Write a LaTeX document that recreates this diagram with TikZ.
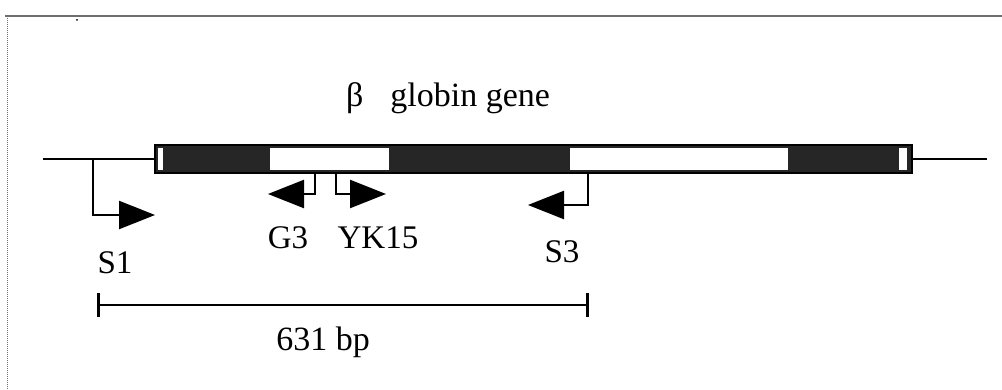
\documentclass[tikz,border=0pt]{standalone}
\usepackage{fontspec}
\setmainfont{Liberation Serif}
\usetikzlibrary{arrows.meta, positioning}
\definecolor{exondark}{RGB}{38,38,38}
\definecolor{framegray}{RGB}{110,110,110}

\begin{document}
\begin{tikzpicture}[x=1pt, y=-1pt,
    primer/.style={line width=2.5pt, -{Triangle[length=36pt, width=28pt]}},
    lbl/.style={font=\fontsize{33}{38}\selectfont, inner sep=0pt, anchor=base},
    gap/.style={fill=white, draw=none}]
\useasboundingbox (0,0) rectangle (1002,390);
% frame of the panel
\draw[framegray, line width=2.2pt] (5,16) -- (1002,16);
\draw[framegray, line width=1pt, densely dotted] (7,16) -- (7,390);
\fill[black] (77,20) circle (1pt);
% flanking DNA
\coordinate (lend) at (43,159);
\coordinate (rend) at (987,159);
\draw[line width=1.5pt] (lend) -- (rend);
% gene: exons dark, introns and UTR ends white
\draw[line width=2pt, fill=exondark] (155,145) rectangle (912,173);
\fill[gap] (158,148) rectangle (163,170);
\fill[gap] (270,148) rectangle (389,170);
\fill[gap] (570,148) rectangle (788,170);
\fill[gap] (899,148) rectangle (907,170);
\node[lbl, font=\fontsize{34}{40}\selectfont] (title) at (448,107) {β\hspace{27pt}globin gene};
% primer sites and arrow tips
\coordinate (s1site) at (93,159);   \coordinate (s1tip) at (155,215);
\coordinate (g3site) at (315,173);  \coordinate (g3tip) at (268,194);
\coordinate (yksite) at (336,173);  \coordinate (yktip) at (386,194);
\coordinate (s3site) at (588,173);  \coordinate (s3tip) at (528,205);
\draw[primer] (s1site) |- (s1tip);
\draw[primer] (g3site) |- (g3tip);
\draw[primer] (yksite) |- (yktip);
\draw[primer] (s3site) |- (s3tip);
\node[lbl] (s1) at (115,274) {S1};
\node[lbl] (g3) at (288,249) {G3};
\node[lbl] (yk15) at (378,249) {YK15};
\node[lbl] (s3) at (562,263) {S3};
% amplified length
\coordinate (barl) at (97,305);
\coordinate (barr) at (589,305);
\draw[line width=1.5pt, {Bar[width=24pt, line width=3pt]}-{Bar[width=24pt, line width=3pt]}] (barl) -- (barr);
\node[lbl, font=\fontsize{34}{40}\selectfont] (len) at (323,350) {631 bp};
\end{tikzpicture}
\end{document}
